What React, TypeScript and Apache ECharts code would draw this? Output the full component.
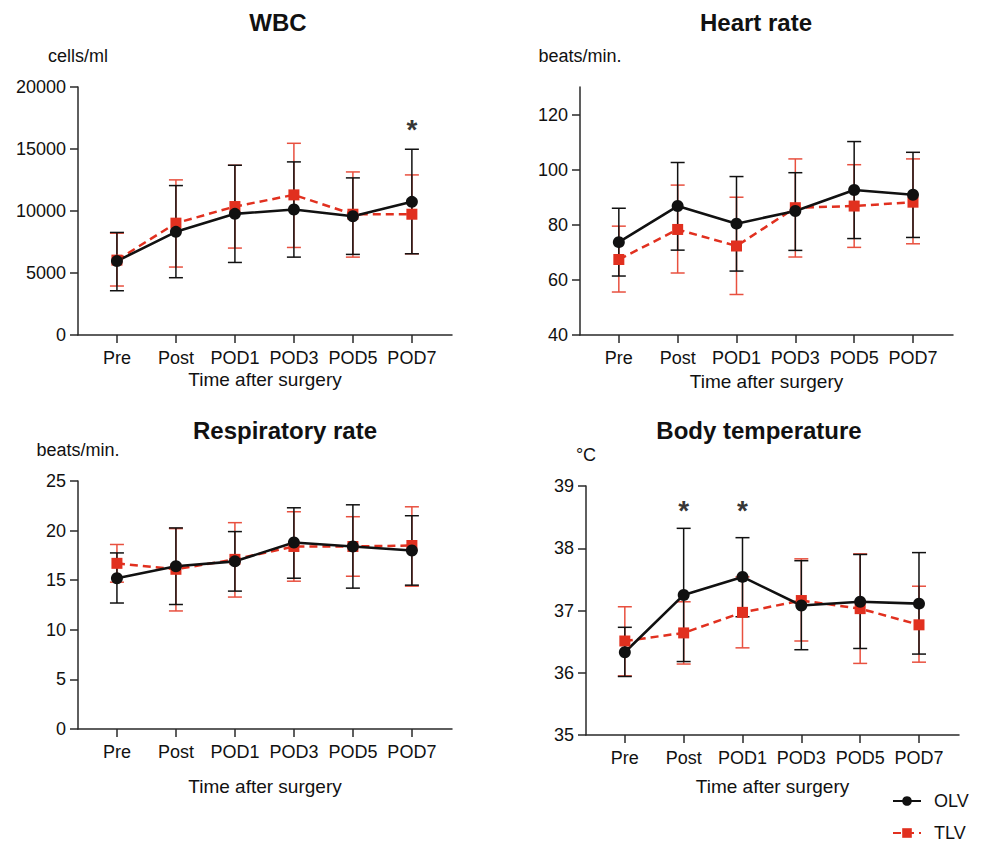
import React, { useEffect, useRef } from "react";
import * as echarts from "echarts";

const categories = ["Pre", "Post", "POD1", "POD3", "POD5", "POD7"];

// WBC (cells/ml)
const wbcOlvMean = [5960, 8320, 9770, 10120, 9580, 10740];
const wbcOlvLow = [3570, 4620, 5850, 6280, 6500, 6550];
const wbcOlvHigh = [8270, 12050, 13690, 13960, 12670, 14980];
const wbcTlvMean = [6040, 9020, 10360, 11300, 9740, 9740];
const wbcTlvLow = [3950, 5480, 7010, 7060, 6280, 6550];
const wbcTlvHigh = [8210, 12510, 13690, 15460, 13150, 12910];
const wbcStars = [[5, 16600]];

// Heart rate (beats/min.)
const hrOlvMean = [73.7, 86.8, 80.4, 85.0, 92.6, 90.9];
const hrOlvLow = [61.4, 70.8, 63.2, 70.7, 75.0, 75.4];
const hrOlvHigh = [86.0, 102.6, 97.5, 98.9, 110.2, 106.3];
const hrTlvMean = [67.4, 78.3, 72.3, 86.2, 86.8, 88.2];
const hrTlvLow = [55.6, 62.5, 54.7, 68.3, 71.8, 73.1];
const hrTlvHigh = [79.5, 94.4, 90.0, 103.9, 101.8, 103.9];

// Respiratory rate (beats/min.)
const rrOlvMean = [15.2, 16.4, 16.9, 18.8, 18.4, 18.0];
const rrOlvLow = [12.7, 12.55, 13.9, 15.2, 14.2, 14.5];
const rrOlvHigh = [17.75, 20.27, 19.9, 22.3, 22.6, 21.5];
const rrTlvMean = [16.7, 16.1, 17.1, 18.4, 18.4, 18.5];
const rrTlvLow = [14.8, 11.9, 13.3, 14.9, 15.4, 14.4];
const rrTlvHigh = [18.6, 20.2, 20.8, 21.9, 21.4, 22.4];

// Body temperature (°C)
const btOlvMean = [36.33, 37.25, 37.54, 37.08, 37.14, 37.11];
const btOlvLow = [35.94, 36.18, 36.9, 36.37, 36.39, 36.3];
const btOlvHigh = [36.73, 38.32, 38.17, 37.8, 37.9, 37.93];
const btTlvMean = [36.51, 36.64, 36.97, 37.16, 37.03, 36.77];
const btTlvLow = [35.95, 36.14, 36.4, 36.51, 36.15, 36.17];
const btTlvHigh = [37.06, 37.14, 37.54, 37.83, 37.91, 37.39];
const btStars = [[1, 38.6], [2, 38.6]];

const wbcTicks = [0, 5000, 10000, 15000, 20000];
const hrTicks = [40, 60, 80, 100, 120];
const rrTicks = [0, 5, 10, 15, 20, 25];
const btTicks = [35, 36, 37, 38, 39];

const FONT = "'Liberation Sans', Arial, Helvetica, sans-serif";
const BLACK = "#111111";
const RED = "#e1301f";
const RED_ERR = "#e8503f";
const AXIS = "#2a2a2a";

export default function App() {
  const ref = useRef<HTMLDivElement>(null);

  useEffect(() => {
    document.body.style.margin = "0";
    if (!ref.current) return;
    const chart = echarts.init(ref.current, undefined, { renderer: "svg" });

    const panels = [
      {
        title: "WBC", unit: "cells/ml", titleX: 278, titleY: 22,
        grid: { left: 78, top: 87, width: 374, height: 248 },
        yMin: 0, yMax: 20000, ticks: wbcTicks, nameGap: 35,
        olv: [wbcOlvMean, wbcOlvLow, wbcOlvHigh], tlv: [wbcTlvMean, wbcTlvLow, wbcTlvHigh],
        stars: wbcStars,
      },
      {
        title: "Heart rate", unit: "beats/min.", titleX: 756, titleY: 22,
        grid: { left: 580, top: 87, width: 373, height: 248 },
        yMin: 40, yMax: 130, ticks: hrTicks, nameGap: 37,
        olv: [hrOlvMean, hrOlvLow, hrOlvHigh], tlv: [hrTlvMean, hrTlvLow, hrTlvHigh],
        stars: [],
      },
      {
        title: "Respiratory rate", unit: "beats/min.", titleX: 285, titleY: 430,
        grid: { left: 78, top: 481, width: 374, height: 248 },
        yMin: 0, yMax: 25, ticks: rrTicks, nameGap: 48,
        olv: [rrOlvMean, rrOlvLow, rrOlvHigh], tlv: [rrTlvMean, rrTlvLow, rrTlvHigh],
        stars: [],
      },
      {
        title: "Body temperature", unit: "°C", titleX: 759, titleY: 430,
        grid: { left: 586, top: 486, width: 373, height: 249 },
        yMin: 35, yMax: 39, ticks: btTicks, nameGap: 42,
        olv: [btOlvMean, btOlvLow, btOlvHigh], tlv: [btTlvMean, btTlvLow, btTlvHigh],
        stars: btStars,
      },
    ];

    const xIdx = categories.map((_, i) => i);

    const errSeries = (k: number, name: string, low: number[], high: number[], color: string) => ({
      type: "custom",
      name,
      xAxisIndex: k,
      yAxisIndex: k,
      data: low.map((l, i) => [i, l, high[i]]),
      encode: { x: 0, y: [1, 2] },
      silent: true,
      renderItem: (_params: any, api: any) => {
        const x = api.value(0);
        const p1 = api.coord([x, api.value(1)]);
        const p2 = api.coord([x, api.value(2)]);
        const w = 7;
        const style = { stroke: color, lineWidth: 1.5 };
        return {
          type: "group",
          children: [
            { type: "line", shape: { x1: p1[0], y1: p1[1], x2: p2[0], y2: p2[1] }, style },
            { type: "line", shape: { x1: p1[0] - w, y1: p1[1], x2: p1[0] + w, y2: p1[1] }, style },
            { type: "line", shape: { x1: p2[0] - w, y1: p2[1], x2: p2[0] + w, y2: p2[1] }, style },
          ],
        };
      },
    });

    const grids: any[] = [];
    const xAxes: any[] = [];
    const yAxes: any[] = [];
    const series: any[] = [];
    const graphics: any[] = [];

    panels.forEach((p, k) => {
      grids.push({ ...p.grid, containLabel: false });
      xAxes.push({
        gridIndex: k,
        type: "value",
        min: -0.66,
        max: 5.68,
        axisLine: { show: true, onZero: false, lineStyle: { color: AXIS, width: 1.5 } },
        axisTick: { show: true, customValues: xIdx, length: 8, lineStyle: { color: AXIS, width: 1.5 } },
        axisLabel: {
          customValues: xIdx,
          formatter: (v: number) => categories[Math.round(v)] ?? "",
          fontSize: 18, color: BLACK, fontFamily: FONT, margin: 14,
        },
        splitLine: { show: false },
        name: "Time after surgery",
        nameLocation: "middle",
        nameGap: p.nameGap,
        nameTextStyle: { fontSize: 19, color: BLACK, fontFamily: FONT },
      });
      yAxes.push({
        gridIndex: k,
        type: "value",
        min: p.yMin,
        max: p.yMax,
        axisLine: { show: true, onZero: false, lineStyle: { color: AXIS, width: 1.5 } },
        axisTick: { show: true, customValues: p.ticks, length: 8, lineStyle: { color: AXIS, width: 1.5 } },
        axisLabel: {
          customValues: p.ticks,
          formatter: (v: number) => String(v),
          fontSize: 18, color: BLACK, fontFamily: FONT, margin: 12,
        },
        splitLine: { show: false },
        name: p.unit,
        nameLocation: "end",
        nameGap: 22,
        nameTextStyle: { fontSize: 18, color: BLACK, fontFamily: FONT, align: "center" },
      });

      series.push(errSeries(k, "TLV-err", p.tlv[1], p.tlv[2], RED_ERR));
      series.push({
        type: "line",
        name: "TLV",
        xAxisIndex: k,
        yAxisIndex: k,
        data: p.tlv[0].map((v, i) => [i, v]),
        symbol: "rect",
        symbolSize: 11,
        itemStyle: { color: RED },
        lineStyle: { color: RED, width: 2.5, type: [8, 5] },
        silent: true,
      });
      series.push(errSeries(k, "OLV-err", p.olv[1], p.olv[2], BLACK));
      series.push({
        type: "line",
        name: "OLV",
        xAxisIndex: k,
        yAxisIndex: k,
        data: p.olv[0].map((v, i) => [i, v]),
        symbol: "circle",
        symbolSize: 12,
        itemStyle: { color: BLACK },
        lineStyle: { color: BLACK, width: 2.6 },
        silent: true,
      });
      if (p.stars.length) {
        series.push({
          type: "scatter",
          name: "significance",
          xAxisIndex: k,
          yAxisIndex: k,
          data: p.stars,
          symbolSize: 0,
          silent: true,
          label: {
            show: true,
            position: "inside",
            formatter: "*",
            fontSize: 28,
            fontWeight: "bold",
            color: "#000000",
            fontFamily: FONT,
          },
        });
      }
      graphics.push({
        type: "text",
        x: p.titleX,
        y: p.titleY,
        style: {
          text: p.title,
          fill: BLACK,
          font: `bold 24px ${FONT}`,
          textAlign: "center",
          textVerticalAlign: "middle",
        },
      });
    });

    chart.setOption({
      animation: false,
      backgroundColor: "#ffffff",
      grid: grids,
      xAxis: xAxes,
      yAxis: yAxes,
      series,
      graphic: graphics,
      legend: {
        data: ["OLV", "TLV"],
        orient: "vertical",
        left: 892,
        top: 792,
        padding: 0,
        itemWidth: 28,
        itemHeight: 12,
        itemGap: 14,
        selectedMode: false,
        textStyle: { fontSize: 18, color: BLACK, fontFamily: FONT, padding: [0, 0, 0, 8] },
      },
    });

    return () => chart.dispose();
  }, []);

  return <div ref={ref} style={{ width: 983, height: 845 }} />;
}
